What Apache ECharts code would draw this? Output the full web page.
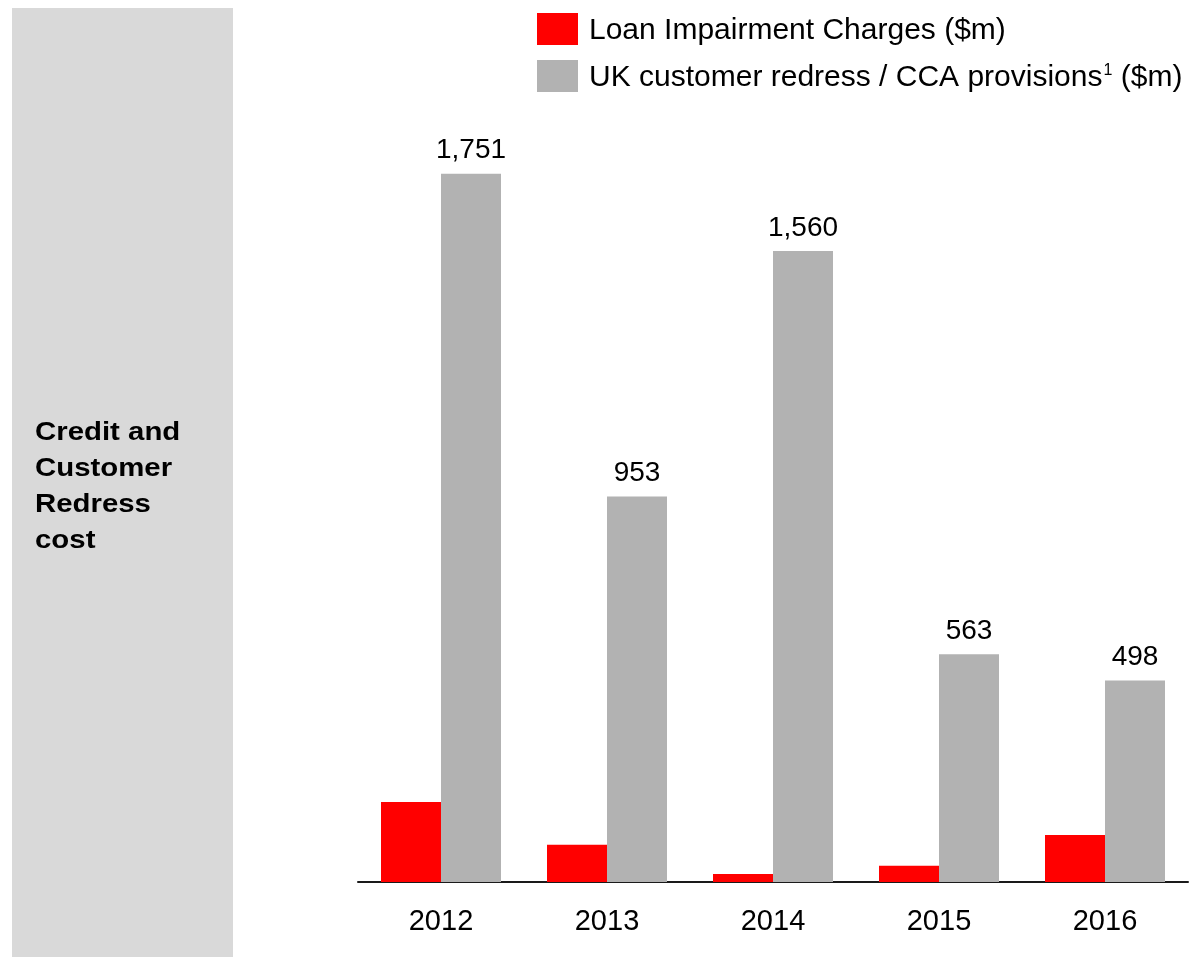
<!DOCTYPE html>
<html>
<head>
<meta charset="utf-8">
<script src="https://cdn.jsdelivr.net/npm/echarts@6/dist/echarts.min.js"></script>
<style>
  html, body { margin: 0; padding: 0; background: #fff; }
  #chart { width: 1189px; height: 957px; }
</style>
</head>
<body>
<div id="chart"></div>
<script>
const years = ['2012', '2013', '2014', '2015', '2016']
const loanImpairment = [198, 92, 20, 40, 116]
const customerRedress = [1751, 953, 1560, 563, 498]
const seriesNames = ['Loan Impairment Charges ($m)', 'UK customer redress / CCA provisions¹ ($m)']

const font = "'Liberation Sans', Arial, sans-serif"
const chart = echarts.init(document.getElementById('chart'))

const option = {
  animation: false,
  backgroundColor: '#fff',
  textStyle: { fontFamily: font },
  graphic: [
    {
      type: 'rect',
      shape: { x: 12, y: 8, width: 221, height: 949 },
      style: { fill: '#d9d9d9' },
      z: -10
    },
    {
      type: 'text',
      x: 35,
      y: 415,
      scaleX: 1.13,
      style: {
        text: 'Credit and\nCustomer\nRedress\ncost',
        font: 'bold 26px ' + font,
        lineHeight: 36,
        fill: '#000'
      }
    }
  ],
  legend: {
    orient: 'vertical',
    left: 537,
    top: 13,
    padding: 0,
    itemWidth: 41,
    itemHeight: 32,
    itemGap: 14,
    icon: 'rect',
    data: seriesNames,
    formatter: name => name.replace('¹', '{sup|1}'),
    textStyle: {
      fontSize: 30,
      color: '#000',
      fontFamily: font,
      padding: [4, 0, 0, 6],
      rich: {
        sup: { fontSize: 16, verticalAlign: 'top', padding: [0, 0, 12, 1], color: '#000', fontFamily: font }
      }
    }
  },
  grid: {
    left: 358,
    right: 1,
    top: 73,
    bottom: 75,
    containLabel: false
  },
  xAxis: {
    type: 'category',
    data: years,
    axisLine: { show: true, lineStyle: { color: '#1a1a1a', width: 2 } },
    axisTick: { show: false },
    axisLabel: { color: '#000', fontSize: 29, margin: 25, fontFamily: font }
  },
  yAxis: {
    type: 'value',
    min: 0,
    max: 2000,
    show: false,
    splitLine: { show: false }
  },
  series: [
    {
      name: seriesNames[0],
      type: 'bar',
      data: loanImpairment,
      barWidth: 60,
      barGap: '0%',
      itemStyle: { color: '#ff0000' }
    },
    {
      name: seriesNames[1],
      type: 'bar',
      data: customerRedress,
      barWidth: 60,
      itemStyle: { color: '#b2b2b2' },
      label: {
        show: true,
        position: 'top',
        distance: 9,
        color: '#000',
        fontSize: 28,
        fontFamily: font,
        formatter: p => p.value.toLocaleString('en-US')
      }
    }
  ]
}

chart.setOption(option)
</script>
</body>
</html>
